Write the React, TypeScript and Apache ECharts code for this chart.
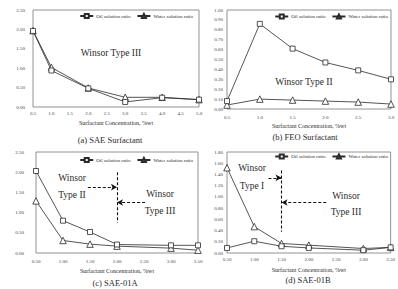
import React, { useEffect, useRef } from "react";
import * as echarts from "echarts";

// (a) SAE surfactant
const saeX = [0.5, 1.0, 2.0, 3.0, 4.0, 5.0];
const saeOil = [1.96, 0.94, 0.48, 0.13, 0.24, 0.19];
const saeWater = [1.97, 1.02, 0.49, 0.25, 0.25, 0.19];

// (b) FEO surfactant
const feoX = [0.5, 1.0, 1.5, 2.0, 2.5, 3.0];
const feoOil = [0.08, 0.86, 0.61, 0.47, 0.39, 0.3];
const feoWater = [0.04, 0.1, 0.09, 0.08, 0.07, 0.05];

// (c) SAE-01A
const saeAX = [0.5, 1.0, 1.5, 2.0, 3.0, 3.5];
const saeAOil = [2.03, 0.8, 0.52, 0.21, 0.19, 0.19];
const saeAWater = [1.29, 0.31, 0.22, 0.17, 0.12, 0.07];

// (d) SAE-01B
const saeBX = [0.5, 1.0, 1.5, 2.0, 3.0, 3.5];
const saeBOil = [0.09, 0.21, 0.12, 0.09, 0.05, 0.1];
const saeBWater = [1.52, 0.47, 0.17, 0.14, 0.08, 0.1];

const OIL = "Oil solution ratio";
const WATER = "Water solution ratio";
const AXIS_TITLE = "Surfactant Concentration, %wt";
const captions = ["(a) SAE Surfactant", "(b) FEO Surfactant", "(c) SAE-01A", "(d) SAE-01B"];

const FONT = "Liberation Serif";
const INK = "#2a2a2a";

function pairs(xs: number[], ys: number[]) {
  return xs.map((x, i) => [x, ys[i]]);
}

function lineSeries(name: string, idx: number, xs: number[], ys: number[], extra: any = {}) {
  const isOil = name === OIL;
  return {
    name,
    type: "line",
    xAxisIndex: idx,
    yAxisIndex: idx,
    data: pairs(xs, ys),
    symbol: isOil ? "rect" : "triangle",
    symbolSize: isOil ? 5 : 6.5,
    itemStyle: { color: "#fff", borderColor: INK, borderWidth: 0.8 },
    lineStyle: { color: INK, width: 0.8 },
    z: isOil ? 3 : 2,
    ...extra,
  };
}

function dashed(a: number[], b: number[], arrow: boolean) {
  return [
    { coord: a, symbol: "none" },
    { coord: b, symbol: arrow ? "arrow" : "none", symbolSize: [5, 6] },
  ];
}

function markLines(lines: any[]) {
  return {
    markLine: {
      silent: true,
      animation: false,
      label: { show: false },
      lineStyle: { color: "#111", width: 1.1, type: [3, 2] },
      itemStyle: { color: "#111" },
      emphasis: { disabled: true },
      data: lines,
    },
  };
}

export default function App() {
  const ref = useRef<HTMLDivElement>(null);

  useEffect(() => {
    document.body.style.margin = "0";
    if (!ref.current) return;
    const chart = echarts.init(ref.current, null, { renderer: "svg" });

    const grids = [
      { left: 33, top: 10, width: 166, height: 97 },
      { left: 227, top: 10, width: 164, height: 99 },
      { left: 36, top: 152, width: 162, height: 101 },
      { left: 227, top: 152, width: 164, height: 101 },
    ].map((g) => ({ ...g, show: true, borderColor: "#777", borderWidth: 0.8 }));

    const xCfg = [
      { min: 0.5, max: 5.0, interval: 0.5, dec: 1, margin: 4, gap: 12.5 },
      { min: 0.5, max: 3.0, interval: 0.5, dec: 1, margin: 6, gap: 14 },
      { min: 0.5, max: 3.5, interval: 0.5, dec: 2, margin: 6, gap: 15 },
      { min: 0.5, max: 3.5, interval: 0.5, dec: 2, margin: 4, gap: 14 },
    ];
    const yCfg = [
      { min: 0, max: 2.5, interval: 0.5, margin: 8 },
      { min: 0, max: 1.0, interval: 0.1, margin: 4 },
      { min: 0, max: 2.5, interval: 0.5, margin: 12 },
      { min: 0, max: 1.8, interval: 0.2, margin: 4 },
    ];

    const xAxis = xCfg.map((c, i) => ({
      type: "value",
      gridIndex: i,
      min: c.min,
      max: c.max,
      interval: c.interval,
      name: AXIS_TITLE,
      nameLocation: "middle",
      nameGap: c.gap,
      nameTextStyle: { fontFamily: FONT, fontSize: 6, color: INK },
      axisLine: { show: false },
      axisTick: { show: false },
      splitLine: { show: false },
      axisLabel: {
        fontFamily: FONT,
        fontSize: 5,
        color: "#444",
        margin: c.margin,
        formatter: (v: number) => v.toFixed(c.dec),
      },
    }));

    const yAxis = yCfg.map((c, i) => ({
      type: "value",
      gridIndex: i,
      min: c.min,
      max: c.max,
      interval: c.interval,
      axisLine: { show: false },
      axisTick: { show: false },
      splitLine: { show: false },
      axisLabel: {
        fontFamily: FONT,
        fontSize: 5,
        color: "#444",
        margin: c.margin,
        formatter: (v: number) => v.toFixed(2),
      },
    }));

    const legendPos = [
      { right: 205, top: 13 },
      { right: 10, top: 13.5 },
      { right: 205, top: 157 },
      { right: 10, top: 153.5 },
    ];
    const legend = legendPos.map((p) => ({
      ...p,
      orient: "horizontal",
      data: [OIL, WATER],
      itemWidth: 13,
      itemHeight: 5,
      itemGap: 6,
      padding: 0,
      selectedMode: false,
      textStyle: { fontFamily: FONT, fontSize: 5, color: INK, padding: [0, 0, 0, -2] },
    }));

    const series = [
      lineSeries(OIL, 0, saeX, saeOil),
      lineSeries(WATER, 0, saeX, saeWater),
      lineSeries(OIL, 1, feoX, feoOil),
      lineSeries(WATER, 1, feoX, feoWater),
      lineSeries(
        OIL,
        2,
        saeAX,
        saeAOil,
        markLines([
          dashed([2.0, 2.0], [2.0, 0.75], false),
          dashed([1.46, 1.63], [2.0, 1.63], true),
          dashed([2.52, 1.25], [2.0, 1.25], true),
        ])
      ),
      lineSeries(WATER, 2, saeAX, saeAWater),
      lineSeries(OIL, 3, saeBX, saeBOil),
      lineSeries(
        WATER,
        3,
        saeBX,
        saeBWater,
        markLines([
          dashed([1.5, 1.47], [1.5, 0.38], false),
          dashed([1.26, 1.34], [1.5, 1.34], true),
          dashed([2.32, 0.9], [1.5, 0.9], true),
        ])
      ),
    ];

    const label = (text: string, x: number, y: number, size: number) => ({
      type: "text",
      x,
      y,
      silent: true,
      style: {
        text,
        fill: INK,
        fontFamily: FONT,
        fontSize: size,
        align: "center",
        verticalAlign: "middle",
      },
    });

    const graphic = [
      label("Winsor Type III", 111, 53, 9.5),
      label("Winsor Type II", 304, 82, 9.5),
      label("Winsor", 72, 178, 9.5),
      label("Type II", 72, 195, 9.5),
      label("Winsor", 160, 194, 9.5),
      label("Type III", 160, 211, 9.5),
      label("Winsor", 252, 168, 9.5),
      label("Type I", 252, 186, 9.5),
      label("Winsor", 346, 196, 9.5),
      label("Type III", 346, 212, 9.5),
      label(captions[0], 110, 140, 8.5),
      label(captions[1], 305, 136.5, 8.5),
      label(captions[2], 115, 283, 8.5),
      label(captions[3], 308, 280, 8.5),
    ];

    chart.setOption({
      animation: false,
      backgroundColor: "#fff",
      textStyle: { fontFamily: FONT },
      grid: grids,
      xAxis,
      yAxis,
      legend,
      series,
      graphic,
    });

    return () => chart.dispose();
  }, []);

  return <div ref={ref} style={{ width: 398, height: 289 }} />;
}
